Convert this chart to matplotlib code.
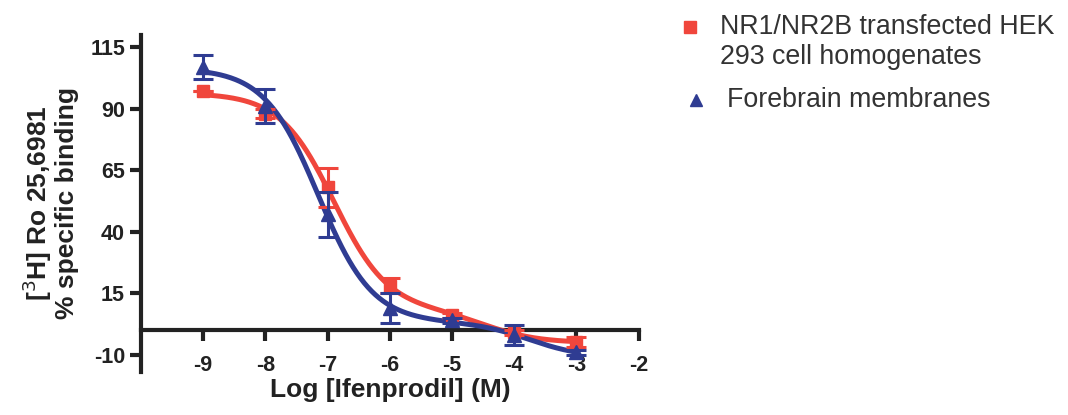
import numpy as np
import matplotlib
matplotlib.use("Agg")
import matplotlib.pyplot as plt
from matplotlib.lines import Line2D

# ----------------------------
# data
# ----------------------------
log_conc = np.array([-9, -8, -7, -6, -5, -4, -3], dtype=float)

hek_mean = np.array([97, 88, 58, 18, 6, -1, -5], dtype=float)
hek_err = np.array([0, 2, 8, 3, 1, 1, 2], dtype=float)

fore_mean = np.array([107, 91, 47, 9, 4, -2, -9], dtype=float)
fore_err = np.array([5, 7, 9, 6, 1, 4, 1], dtype=float)

hek_label = "NR1/NR2B transfected HEK\n293 cell homogenates"
fore_label = "Forebrain membranes"

red = "#F0463C"
blue = "#2F3C92"
ink = "#222222"
fam = ["Liberation Sans", "DejaVu Sans"]

plt.rcParams["axes.unicode_minus"] = False


def fit_two_site(x, y):
    # two-site competition curve: grid over both logIC50s, linear solve for the rest
    best = None
    for l1 in np.linspace(-9.5, -5.5, 81):
        for l2 in np.linspace(-7.0, -1.5, 111):
            if l2 <= l1:
                continue
            s1 = 1.0 / (1.0 + 10 ** (x - l1))
            s2 = 1.0 / (1.0 + 10 ** (x - l2))
            A = np.column_stack([np.ones_like(x), s1, s2])
            coef, *_ = np.linalg.lstsq(A, y, rcond=None)
            if coef[1] < 0 or coef[2] < 0:
                continue
            res = np.sum((A @ coef - y) ** 2)
            if best is None or res < best[0]:
                best = (res, l1, l2, coef)
    _, l1, l2, c = best
    return lambda xx: (c[0] + c[1] / (1.0 + 10 ** (xx - l1))
                       + c[2] / (1.0 + 10 ** (xx - l2)))


xs = np.linspace(-9, -3, 300)
hek_fit = fit_two_site(log_conc, hek_mean)
fore_fit = fit_two_site(log_conc, fore_mean)

fig = plt.figure(figsize=(10.68, 4.15), dpi=100)
ax = fig.add_axes([0.132, 0.104, 0.466, 0.812])

ax.plot(xs, hek_fit(xs), color=red, lw=3.6, zorder=3)
ax.plot(xs, fore_fit(xs), color=blue, lw=3.6, zorder=4)

ax.errorbar(log_conc, hek_mean, yerr=hek_err, fmt="s", color=red, ms=9,
            capsize=7, elinewidth=2.2, capthick=2.2, zorder=5)
ax.errorbar(log_conc, fore_mean, yerr=fore_err, fmt="^", color=blue, ms=10,
            capsize=7, elinewidth=2.2, capthick=2.2, zorder=6)

ax.set_xlim(-10, -2)
ax.set_ylim(-17, 120)
ax.set_xticks([-9, -8, -7, -6, -5, -4, -3, -2])
ax.set_yticks([-10, 15, 40, 65, 90, 115])

for s in ["top", "right"]:
    ax.spines[s].set_visible(False)
ax.spines["bottom"].set_position(("data", 0))
for s in ["bottom", "left"]:
    ax.spines[s].set_linewidth(3)
    ax.spines[s].set_color(ink)

ax.tick_params(axis="both", width=3, length=8, color=ink,
               labelsize=15.5, labelcolor=ink)
ax.tick_params(axis="x", pad=10)
for lab in ax.get_xticklabels() + ax.get_yticklabels():
    lab.set_fontweight("bold")
    lab.set_family(fam)

ax.set_ylabel("[$^3$H] Ro 25,6981\n% specific binding", fontsize=19,
              fontweight="bold", color=ink, labelpad=8, family=fam,
              linespacing=1.05)
ax.set_xlabel("Log [Ifenprodil] (M)", fontsize=19, fontweight="bold",
              color=ink, family=fam, va="center")
ax.xaxis.set_label_coords(0.5, -0.055)

# legend drawn by hand so the square sits on the first text line
fig.add_artist(Line2D([0.646], [0.935], marker="s", color=red, ms=8,
                      transform=fig.transFigure))
fig.add_artist(Line2D([0.652], [0.759], marker="^", color=blue, ms=9,
                      transform=fig.transFigure))
fig.text(0.674, 0.898, hek_label, fontsize=19.3, color="#333333",
         va="center", linespacing=1.2, family=fam)
fig.text(0.681, 0.759, fore_label, fontsize=19.3, color="#333333",
         va="center", family=fam)

fig.savefig("out.png", dpi=100)
